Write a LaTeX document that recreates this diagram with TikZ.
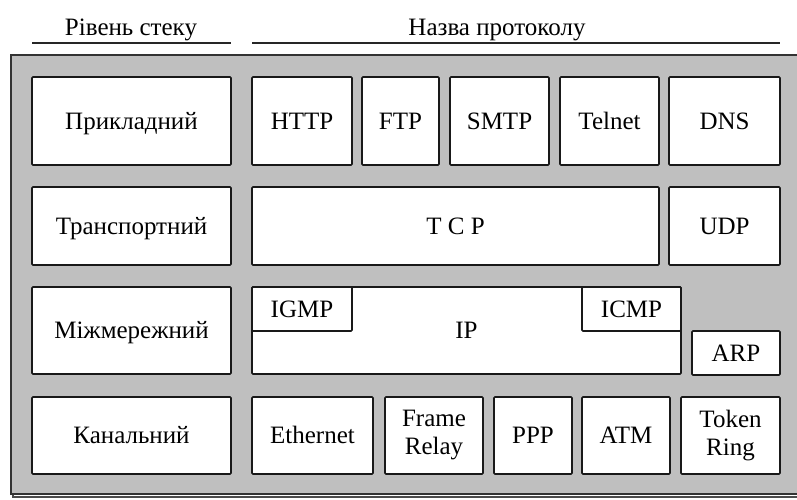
\documentclass[tikz,border=0pt]{standalone}
\usepackage{fontspec}
\setmainfont{Liberation Serif}
\begin{document}
\begin{tikzpicture}[x=1pt,y=-1pt,
  box/.style={draw=black!90, line width=1.6pt, fill=white, rounded corners=1pt,
    inner sep=0pt, outer sep=0pt, align=center, font=\fontsize{25}{28}\selectfont},
  one/.style={text height=16.5pt, text depth=0pt},
  ttl/.style={anchor=base, inner sep=0pt, font=\fontsize{25}{28}\selectfont},
  rule/.style={draw=black!85, line width=1.4pt}]
\newcommand\pbox[7][one]{%
  \pgfmathsetmacro\bw{#5-#3}\pgfmathsetmacro\bh{#6-#4}%
  \node[box, #1, minimum width=\bw pt, minimum height=\bh pt] (#2) at ({(#3+#5)/2},{(#4+#6)/2}) {#7};}
\useasboundingbox (0,0) rectangle (797,499);
% titles
\node[ttl] (tl) at (131,35) {Рівень стеку};
\node[ttl] (tr) at (497,35) {Назва протоколу};
\draw[rule] (32,43) -- (231,43);
\draw[rule] (252,43) -- (780,43);
% outer frame with shadow
\draw[draw=black!70, line width=1.4pt] (13,58) rectangle (810,497);
\draw[draw=black!80, fill=black!25, line width=1.6pt] (11,55) rectangle (808,494);
% row 1
\pbox{app}{32}{77}{231}{165}{Прикладний}
\pbox{http}{252}{77}{352}{165}{HTTP}
\pbox{ftp}{362}{77}{439}{165}{FTP}
\pbox{smtp}{450}{77}{549}{165}{SMTP}
\pbox{telnet}{560}{77}{659}{165}{Telnet}
\pbox{dns}{669}{77}{780}{165}{DNS}
% row 2
\pbox{trans}{32}{187}{231}{265}{Транспортний}
\pbox{tcp}{252}{187}{659}{265}{T C P}
\pbox{udp}{669}{187}{780}{265}{UDP}
% row 3
\pbox{inet}{32}{287}{231}{374}{Міжмережний}
\pbox{ip}{252}{287}{681}{374}{IP}
\pbox{igmp}{252}{287}{352}{331}{IGMP}
\pbox{icmp}{582}{287}{681}{331}{ICMP}
\pbox{arp}{692}{331}{780}{375}{ARP}
% row 4
\pbox{link}{32}{397}{231}{474}{Канальний}
\pbox{eth}{252}{397}{373}{474}{Ethernet}
\pbox[]{fr}{385}{397}{483}{474}{Frame\\Relay}
\pbox{ppp}{494}{397}{572}{474}{PPP}
\pbox{atm}{582}{397}{670}{474}{ATM}
\pbox[]{tok}{681}{397}{780}{474}{Token\\Ring}
\end{tikzpicture}
\end{document}
